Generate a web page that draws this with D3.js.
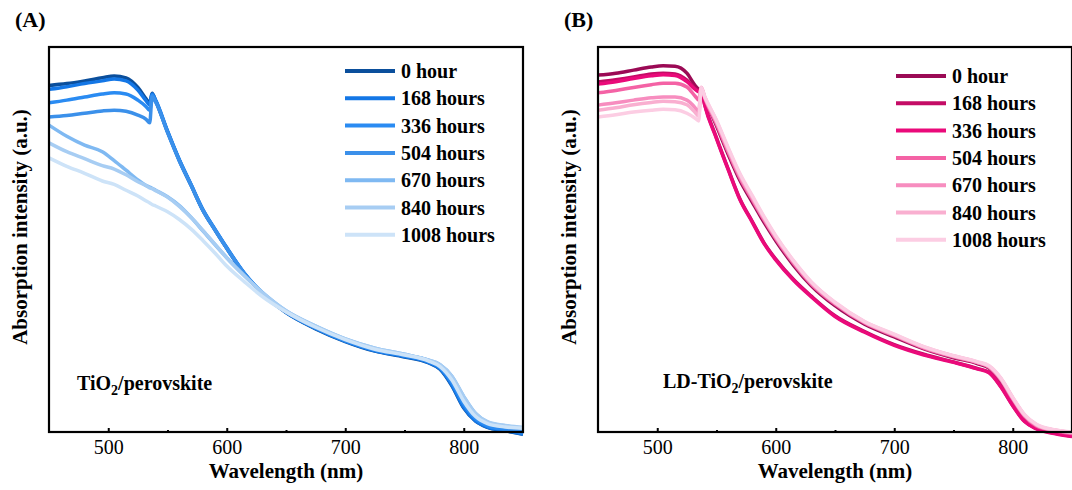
<!DOCTYPE html>
<html>
<head>
<meta charset="utf-8">
<script src="https://cdn.jsdelivr.net/npm/d3@7"></script>
<style>
  body { margin: 0; background: #fff; }
  svg text { font-family: "Liberation Serif", "Times New Roman", serif; }
</style>
</head>
<body>
<div id="container"></div>
<script>
/* CONSTANTS AND GLOBALS */
const width = 1072,
  height = 490;

// wavelength grid (nm) shared by every spectrum
const wavelength = [450, 465, 480, 495, 505, 515, 525, 532, 535, 537, 540, 550, 560, 570, 580, 590,
  600, 615, 630, 650, 675, 700, 725, 750, 770, 780, 790, 800, 810, 820, 835, 850];

const hourLabels = ["0 hour", "168 hours", "336 hours", "504 hours", "670 hours", "840 hours", "1008 hours"];
const xTicks = [500, 600, 700, 800];
const xMinorTicks = [550, 650, 750];

// (A) TiO2/perovskite
const tio2_0h = [0.900, 0.905, 0.912, 0.920, 0.925, 0.920, 0.895, 0.865, 0.855, 0.880, 0.860, 0.780, 0.705, 0.640, 0.575, 0.525,
  0.477, 0.410, 0.360, 0.310, 0.268, 0.235, 0.210, 0.195, 0.180, 0.163, 0.120, 0.062, 0.028, 0.012, 0.003, -0.006];
const tio2_168h = [0.890, 0.897, 0.905, 0.912, 0.917, 0.912, 0.888, 0.860, 0.850, 0.878, 0.862, 0.782, 0.707, 0.642, 0.577, 0.527,
  0.479, 0.412, 0.361, 0.311, 0.269, 0.236, 0.211, 0.196, 0.181, 0.164, 0.122, 0.064, 0.029, 0.013, 0.004, -0.005];
const tio2_336h = [0.855, 0.862, 0.870, 0.878, 0.881, 0.878, 0.862, 0.845, 0.835, 0.875, 0.860, 0.780, 0.706, 0.641, 0.576, 0.526,
  0.478, 0.411, 0.361, 0.312, 0.270, 0.237, 0.213, 0.198, 0.183, 0.167, 0.128, 0.072, 0.034, 0.016, 0.006, -0.002];
const tio2_504h = [0.818, 0.822, 0.828, 0.834, 0.836, 0.833, 0.823, 0.812, 0.803, 0.870, 0.857, 0.778, 0.704, 0.640, 0.575, 0.525,
  0.477, 0.411, 0.361, 0.312, 0.271, 0.239, 0.215, 0.200, 0.186, 0.172, 0.140, 0.088, 0.045, 0.024, 0.012, 0.004];
const tio2_670h = [0.797, 0.768, 0.745, 0.728, 0.705, 0.680, 0.655, 0.640, 0.636, 0.633, 0.628, 0.611, 0.588, 0.557, 0.522, 0.487,
  0.453, 0.406, 0.363, 0.315, 0.275, 0.242, 0.218, 0.202, 0.187, 0.175, 0.145, 0.092, 0.048, 0.026, 0.016, 0.011];
const tio2_840h = [0.751, 0.728, 0.710, 0.692, 0.683, 0.668, 0.650, 0.640, 0.634, 0.632, 0.627, 0.610, 0.586, 0.557, 0.523, 0.488,
  0.452, 0.405, 0.362, 0.315, 0.275, 0.242, 0.218, 0.202, 0.187, 0.175, 0.145, 0.092, 0.048, 0.027, 0.017, 0.012];
const tio2_1008h = [0.712, 0.690, 0.672, 0.652, 0.643, 0.628, 0.613, 0.600, 0.595, 0.591, 0.587, 0.572, 0.552, 0.527, 0.497, 0.465,
  0.431, 0.390, 0.352, 0.312, 0.272, 0.240, 0.215, 0.200, 0.185, 0.170, 0.135, 0.080, 0.040, 0.022, 0.013, 0.010];

// (B) LD-TiO2/perovskite
const ld_0h = [0.927, 0.932, 0.940, 0.948, 0.951, 0.950, 0.932, 0.900, 0.890, 0.885, 0.865, 0.795, 0.720, 0.652, 0.598, 0.545,
  0.497, 0.433, 0.380, 0.328, 0.280, 0.247, 0.216, 0.193, 0.178, 0.166, 0.132, 0.082, 0.038, 0.014, 0.002, -0.006];
const ld_168h = [0.909, 0.915, 0.922, 0.930, 0.932, 0.930, 0.914, 0.892, 0.886, 0.890, 0.852, 0.764, 0.682, 0.604, 0.548, 0.492,
  0.449, 0.396, 0.353, 0.302, 0.261, 0.227, 0.202, 0.182, 0.165, 0.155, 0.118, 0.069, 0.028, 0.009, -0.003, -0.011];
const ld_336h = [0.904, 0.910, 0.918, 0.925, 0.928, 0.926, 0.910, 0.890, 0.884, 0.893, 0.850, 0.762, 0.680, 0.602, 0.546, 0.490,
  0.447, 0.394, 0.351, 0.300, 0.259, 0.225, 0.200, 0.181, 0.164, 0.154, 0.117, 0.068, 0.027, 0.008, -0.004, -0.012];
const ld_504h = [0.881, 0.887, 0.895, 0.902, 0.906, 0.906, 0.896, 0.872, 0.862, 0.895, 0.868, 0.800, 0.726, 0.658, 0.604, 0.551,
  0.502, 0.438, 0.384, 0.332, 0.283, 0.250, 0.218, 0.195, 0.180, 0.168, 0.135, 0.085, 0.041, 0.016, 0.004, -0.004];
const ld_670h = [0.849, 0.855, 0.862, 0.868, 0.870, 0.870, 0.862, 0.842, 0.830, 0.895, 0.870, 0.805, 0.732, 0.664, 0.609, 0.555,
  0.506, 0.442, 0.387, 0.335, 0.285, 0.252, 0.220, 0.197, 0.181, 0.170, 0.138, 0.088, 0.043, 0.018, 0.005, -0.002];
const ld_840h = [0.836, 0.842, 0.850, 0.856, 0.859, 0.858, 0.850, 0.830, 0.820, 0.895, 0.871, 0.808, 0.735, 0.667, 0.612, 0.558,
  0.508, 0.444, 0.389, 0.336, 0.286, 0.253, 0.221, 0.198, 0.182, 0.171, 0.139, 0.089, 0.044, 0.019, 0.005, -0.001];
const ld_1008h = [0.818, 0.824, 0.831, 0.836, 0.838, 0.837, 0.828, 0.815, 0.808, 0.895, 0.872, 0.810, 0.738, 0.670, 0.615, 0.560,
  0.510, 0.445, 0.390, 0.337, 0.287, 0.254, 0.222, 0.198, 0.183, 0.172, 0.140, 0.090, 0.045, 0.020, 0.006, 0.000];

const blueColors = ["#0b4f9c", "#1477e6", "#2a8bf2", "#3b90ea", "#7fb9f2", "#a7cdf3", "#cde3f8"];
const pinkColors = ["#9b0a55", "#c40c66", "#ea0a7a", "#f462a5", "#f78dbf", "#f9afd0", "#fccde3"];

const panels = [
  { tag: "(A)", left: 49, sample: ["TiO", "2", "/perovskite"], sampleX: 77, sampleY: 390,
    legendX: 345, legendY: 71, colors: blueColors,
    series: [tio2_0h, tio2_168h, tio2_336h, tio2_504h, tio2_670h, tio2_840h, tio2_1008h] },
  { tag: "(B)", left: 598, sample: ["LD-TiO", "2", "/perovskite"], sampleX: 663, sampleY: 388,
    legendX: 896, legendY: 76, colors: pinkColors,
    series: [ld_0h, ld_168h, ld_336h, ld_504h, ld_670h, ld_840h, ld_1008h] }
];

const plotW = 474, plotTop = 47, plotBottom = 432;

const svg = d3.select("#container")
  .append("svg")
  .attr("width", width)
  .attr("height", height);

panels.forEach(p => {
  const x = d3.scaleLinear().domain([450, 850]).range([p.left, p.left + plotW]);
  const y = d3.scaleLinear().domain([0, 1]).range([plotBottom, plotTop]);
  const g = svg.append("g");

  // SPECTRA
  const line = d3.line()
    .x((d, i) => x(wavelength[i]))
    .y(d => y(d))
    .curve(d3.curveMonotoneX);

  g.selectAll("path.spectrum")
    .data(p.series)
    .join("path")
    .attr("class", "spectrum")
    .attr("d", d => line(d))
    .attr("fill", "none")
    .attr("stroke", (d, i) => p.colors[i])
    .attr("stroke-width", 3.5)
    .attr("stroke-linejoin", "round");

  // FRAME
  g.append("rect")
    .attr("x", p.left).attr("y", plotTop)
    .attr("width", plotW).attr("height", plotBottom - plotTop)
    .attr("fill", "none").attr("stroke", "#000").attr("stroke-width", 2.2);

  // X AXIS
  const xAxis = d3.axisBottom(x).tickValues(xTicks).tickSizeInner(-4).tickSizeOuter(0).tickPadding(8);
  const ax = g.append("g").attr("transform", `translate(0,${plotBottom})`).call(xAxis);
  ax.select(".domain").remove();
  ax.selectAll(".tick line").attr("stroke", "#000").attr("stroke-width", 2);
  ax.selectAll(".tick text").attr("font-size", 20).attr("fill", "#000")
    .style("font-family", "'Liberation Serif', 'Times New Roman', serif");

  const minor = d3.axisBottom(x).tickValues(xMinorTicks).tickSizeInner(-2).tickSizeOuter(0).tickFormat("");
  const mx = g.append("g").attr("transform", `translate(0,${plotBottom})`).call(minor);
  mx.select(".domain").remove();
  mx.selectAll(".tick line").attr("stroke", "#000").attr("stroke-width", 2);

  g.append("text")
    .attr("x", p.left + plotW / 2).attr("y", 478)
    .attr("text-anchor", "middle")
    .attr("font-size", 21).attr("font-weight", "bold")
    .text("Wavelength (nm)");

  // Y LABEL
  g.append("text")
    .attr("transform", `translate(${p.left - 22},227) rotate(-90)`)
    .attr("text-anchor", "middle")
    .attr("font-size", 21).attr("font-weight", "bold")
    .text("Absorption intensity (a.u.)");

  // PANEL TAG
  g.append("text")
    .attr("x", p.left - 34).attr("y", 27)
    .attr("font-size", 22).attr("font-weight", "bold")
    .text(p.tag);

  // SAMPLE NAME
  const s = g.append("text")
    .attr("x", p.sampleX).attr("y", p.sampleY)
    .attr("font-size", 20).attr("font-weight", "bold");
  s.append("tspan").text(p.sample[0]);
  s.append("tspan").attr("dy", 5).attr("font-size", 14).text(p.sample[1]);
  s.append("tspan").attr("dy", -5).text(p.sample[2]);

  // LEGEND
  const leg = g.selectAll("g.legend")
    .data(hourLabels)
    .join("g")
    .attr("class", "legend")
    .attr("transform", (d, i) => `translate(${p.legendX},${p.legendY + i * 27.3})`);
  leg.append("line")
    .attr("x1", 0).attr("x2", 50)
    .attr("stroke", (d, i) => p.colors[i])
    .attr("stroke-width", 4);
  leg.append("text")
    .attr("x", 56).attr("y", 7)
    .attr("font-size", 20).attr("font-weight", "bold")
    .text(d => d);
});
</script>
</body>
</html>
